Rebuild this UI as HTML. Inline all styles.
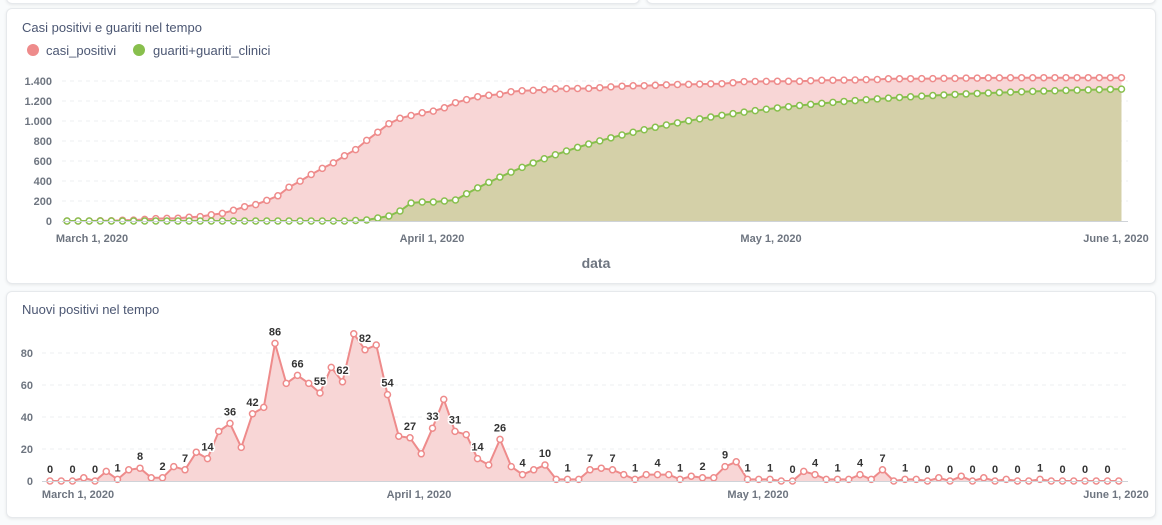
<!DOCTYPE html>
<html><head><meta charset="utf-8"><style>
body{margin:0;background:#f9fbfc;width:1162px;height:525px;overflow:hidden;font-family:"Liberation Sans",sans-serif}
.card{position:absolute;background:#fff;border:1px solid #e6e9ec;border-radius:6px;box-shadow:0 1px 3px rgba(0,0,0,.08)}
svg{position:absolute;left:0;top:0}
</style></head><body>
<div class="card" style="left:6px;top:-8px;width:632px;height:10px"></div>
<div class="card" style="left:646px;top:-8px;width:508px;height:10px"></div>
<div class="card" style="left:6px;top:8px;width:1148px;height:274px"></div>
<div class="card" style="left:6px;top:291px;width:1148px;height:225px"></div>
<svg id="s" width="1162" height="525" xmlns="http://www.w3.org/2000/svg" font-family="Liberation Sans, sans-serif"></svg>
<script>
var d=[0,0,0,2,0,6,1,7,8,2,2,9,7,18,14,31,36,21,42,46,86,61,66,61,55,71,62,92,82,85,54,28,27,17,33,51,31,29,14,10,26,9,4,7,10,1,1,1,7,8,7,4,1,4,4,4,1,3,2,2,9,12,1,1,1,0,0,6,4,1,1,1,4,1,7,0,1,1,0,2,0,3,0,2,0,1,0,0,1,0,0,0,0,0,0,0];
var cum=[],c=0;d.forEach(v=>{c+=v;cum.push(c)});
var g=[];for(var i=0;i<d.length;i++){var v;if(i<26)v=0;else if(i<31)v=[5,10,30,50,100][i-26];else if(i<35)v=[180,190,190,200][i-31];else v=210+1150*(1-Math.exp(-(i-35)/18));g.push(v)}
var s='';
function t(x,y,txt,a){s+='<text x="'+x+'" y="'+y+'" '+(a||'')+'>'+txt+'</text>';}
t(22,32,'Casi positivi e guariti nel tempo','font-size="13" fill="#4c5773"');
s+='<circle cx="33" cy="50" r="6" fill="#ee8b8b"/><circle cx="139" cy="50" r="6" fill="#88bf4d"/>';
t(46,55,'casi_positivi','font-size="13" fill="#4c5773"');t(153,55,'guariti+guariti_clinici','font-size="13" fill="#4c5773"');
var X1=i=>67+i*11.1,Y1=v=>221-v*0.1;
for(var k=0;k<=7;k++){var y=Y1(k*200);if(k>0)s+='<line x1="62" x2="1128" y1="'+y+'" y2="'+y+'" stroke="#eceff2" stroke-dasharray="4,4"/>';t(52,y+4,(k*200).toLocaleString('de-DE'),'font-size="11" font-weight="bold" fill="#6e7580" text-anchor="end"');}
function poly(X,Y,arr,base){var p=arr.map((v,i)=>X(i).toFixed(1)+','+Y(v).toFixed(1)).join(' ');return {l:p,a:X(0)+','+base+' '+p+' '+X(arr.length-1)+','+base};}
var p1=poly(X1,Y1,cum,221),p2=poly(X1,Y1,g,221);
s+='<polygon points="'+p1.a+'" fill="#f8d6d6"/><polygon points="'+p2.a+'" fill="#d4d0a8"/>';
s+='<polyline points="'+p1.l+'" fill="none" stroke="#ee8b8b" stroke-width="2"/><polyline points="'+p2.l+'" fill="none" stroke="#88bf4d" stroke-width="2"/>';
cum.forEach((v,i)=>s+='<circle cx="'+X1(i)+'" cy="'+Y1(v)+'" r="3" fill="#fff" stroke="#ee8b8b" stroke-width="1.5"/>');
g.forEach((v,i)=>s+='<circle cx="'+X1(i)+'" cy="'+Y1(v)+'" r="3" fill="#fff" stroke="#88bf4d" stroke-width="1.5"/>');
s+='<line x1="62" x2="1128" y1="221.5" y2="221.5" stroke="#cfd3d8"/>';
[[92,'March 1, 2020'],[432,'April 1, 2020'],[771,'May 1, 2020'],[1116,'June 1, 2020']].forEach(a=>t(a[0],242,a[1],'font-size="11" font-weight="bold" fill="#6e7580" text-anchor="middle"'));
t(596,268,'data','font-size="14" font-weight="bold" fill="#6e7580" text-anchor="middle"');
t(22,314,'Nuovi positivi nel tempo','font-size="13" fill="#4c5773"');
var X2=i=>50+i*11.25,Y2=v=>481-v*1.6;
for(var k=0;k<=4;k++){var y=Y2(k*20);if(k>0)s+='<line x1="42" x2="1128" y1="'+y+'" y2="'+y+'" stroke="#eceff2" stroke-dasharray="4,4"/>';t(33,y+4,k*20,'font-size="11" font-weight="bold" fill="#6e7580" text-anchor="end"');}
var p3=poly(X2,Y2,d,481);
s+='<polygon points="'+p3.a+'" fill="#f8d6d6"/><polyline points="'+p3.l+'" fill="none" stroke="#ee8b8b" stroke-width="2"/>';
d.forEach((v,i)=>s+='<circle cx="'+X2(i)+'" cy="'+Y2(v)+'" r="3" fill="#fff" stroke="#ee8b8b" stroke-width="1.5"/>');
s+='<line x1="42" x2="1128" y1="481.5" y2="481.5" stroke="#cfd3d8"/>';
d.forEach((v,i)=>{if(i%2==0&&i<=94)t(X2(i),Y2(v)-8,v,'font-size="11" font-weight="bold" fill="#333" text-anchor="middle" stroke="#fff" stroke-width="3" paint-order="stroke"');});
[[78,'March 1, 2020'],[419,'April 1, 2020'],[758,'May 1, 2020'],[1116,'June 1, 2020']].forEach(a=>t(a[0],498,a[1],'font-size="11" font-weight="bold" fill="#6e7580" text-anchor="middle"'));
document.getElementById('s').innerHTML=s;
</script>
</body></html>
